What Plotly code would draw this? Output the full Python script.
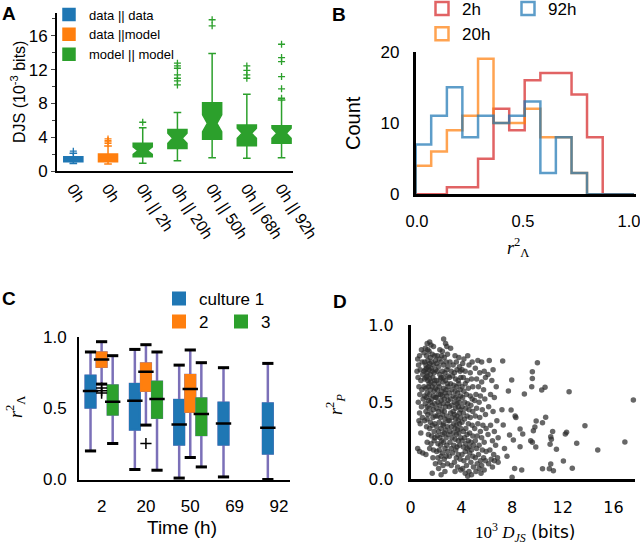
import plotly.graph_objects as go

SANS = "Liberation Sans, Arial, sans-serif"
SERIF = "Liberation Serif, DejaVu Serif, serif"
DJV = "DejaVu Sans, sans-serif"
BLUE, ORANGE, GREEN = "#1f77b4", "#ff7f0e", "#2ca02c"
PURPLE = "#7b70b8"

# ---------------- Panel A data ----------------
a_labels = ["0h", "0h", "0h || 2h", "0h || 20h", "0h || 50h", "0h || 68h", "0h || 92h"]
a_dd = dict(q1=[1.1], med=[1.38], q3=[1.7], lo=[0.9], hi=[2.1])
a_dd_out = [2.35]
a_dm = dict(q1=[1.1], med=[1.5], q3=[2.0], lo=[0.83], hi=[2.96])
a_dm_out = [3.28, 3.45, 3.6, 3.8]
a_mm = dict(q1=[1.7, 2.65, 3.75, 3.0, 3.28], med=[2.41, 3.87, 5.65, 4.46, 4.46],
            q3=[3.28, 4.9, 8.09, 5.45, 5.37], lo=[0.91, 1.22, 1.58, 1.5, 1.58],
            hi=[5.13, 6.91, 13.9, 9.09, 8.41], notch=[0.45, 0.6, 1.0, 0.6, 0.6])
a_mm_out = [[5.77], [10.19, 10.66, 10.98, 11.37, 12.16, 12.44, 12.76], [17.18, 17.9],
            [10.98, 11.37, 11.92, 12.44], [8.61, 9.72, 11.18, 12.95, 13.43, 15.0]]

# ---------------- Panel B data ----------------
b_edges = [-0.006, 0.067, 0.141, 0.214, 0.288, 0.361, 0.435, 0.508, 0.582, 0.655,
           0.729, 0.802, 0.876, 0.949, 1.023]
b_2h = [0, 0, 1, 1, 5, 12, 9, 16, 17, 17, 14, 8, 0, 0]
b_20h = [4, 6, 9, 11, 19, 10, 10, 12, 8, 8, 3, 0, 0, 0]
b_92h = [7, 11, 15, 8, 11, 10, 11, 13, 3, 8, 3, 0, 0, 0]

# ---------------- Panel C data ----------------
c_times = ["2", "20", "50", "69", "92"]
c_cult1 = dict(q1=[0.505, 0.35, 0.245, 0.245, 0.182], med=[0.62, 0.551, 0.386, 0.393, 0.362],
               q3=[0.727, 0.668, 0.556, 0.537, 0.533], lo=[0.2, 0.07, 0.01, 0.018, 0.0],
               hi=[0.893, 0.911, 0.801, 0.783, 0.813])
c_cult2 = dict(q1=[0.79, 0.622, 0.474], med=[0.84, 0.755, 0.633], q3=[0.889, 0.813, 0.731],
               lo=[0.668, 0.381, 0.154], hi=[0.965, 0.944, 0.907])
c_cult2_out = [[0.64, 0.622, 0.605], [0.252], []]
c_cult3 = dict(q1=[0.456, 0.432, 0.311], med=[0.544, 0.563, 0.458], q3=[0.659, 0.685, 0.568],
               lo=[0.252, 0.065, 0.088], hi=[0.867, 0.893, 0.818])

# ---------------- Panel D data (10^3 D_JS, r_P^2) ----------------
d_left = [(0.55,0.78),(0.62,0.74),(0.7,0.8),(0.85,0.84),(0.5,0.7),(0.75,0.71),(0.9,0.76),(0.58,0.66),
          (0.8,0.64),(0.95,0.68),(0.65,0.6),(0.88,0.58),(0.72,0.55),(0.98,0.52),(0.6,0.5),(0.85,0.47),
          (0.7,0.43),(0.65,0.38),(0.75,0.36),(0.92,0.4),(0.55,0.2),(0.7,0.18),(0.95,0.17),(0.8,0.3)]
d_x1 = [(1.3,0.88),(1.5,0.89),(1.6,0.87),(1.8,0.86),(1.15,0.85),(1.05,0.82),(1.25,0.8),(1.45,0.83),
        (1.7,0.81),(1.9,0.8),(1.55,0.79),(1.35,0.84),(1.1,0.76),(1.2,0.74),(1.35,0.77),(1.5,0.75),
        (1.65,0.76),(1.8,0.74),(1.95,0.77),(1.4,0.73),(1.05,0.7),(1.15,0.71),(1.3,0.69),(1.45,0.71),
        (1.55,0.68),(1.7,0.7),(1.85,0.69),(1.25,0.72),(1.6,0.72),(1.95,0.71),(1.1,0.65),(1.2,0.66),
        (1.35,0.64),(1.5,0.65),(1.6,0.63),(1.75,0.66),(1.9,0.64),(1.3,0.67),(1.45,0.62),(1.85,0.62),
        (1.05,0.6),(1.2,0.59),(1.4,0.6),(1.55,0.58),(1.7,0.6),(1.85,0.57),(1.3,0.56),(1.95,0.59),
        (1.1,0.54),(1.25,0.53),(1.5,0.55),(1.65,0.52),(1.8,0.54),(1.95,0.53),(1.4,0.51),(1.15,0.49),
        (1.3,0.47),(1.55,0.5),(1.7,0.48),(1.9,0.49),(1.45,0.46),(1.2,0.44),(1.35,0.42),(1.6,0.43),
        (1.8,0.45),(1.95,0.41),(1.1,0.38),(1.3,0.39),(1.55,0.37),(1.75,0.4),(1.9,0.36),(1.25,0.34),
        (1.5,0.33),(1.7,0.35),(1.85,0.31),(1.4,0.29),(1.65,0.28),(1.9,0.27),(1.3,0.24),(1.6,0.23),
        (1.85,0.25),(1.5,0.2),(1.8,0.19),(1.2,0.16),(1.75,0.14),(1.95,0.1),(1.7,0.04)]
d_x2 = [(2.6,0.91),(2.75,0.88),(2.3,0.84),(2.85,0.86),(2.5,0.83),(2.1,0.8),(2.25,0.78),(2.45,0.8),
        (2.65,0.79),(2.9,0.81),(2.05,0.75),(2.2,0.73),(2.4,0.76),(2.6,0.74),(2.8,0.76),(2.95,0.73),
        (2.1,0.7),(2.3,0.68),(2.5,0.7),(2.7,0.69),(2.85,0.71),(2.4,0.66),(2.95,0.67),(2.05,0.64),
        (2.2,0.62),(2.35,0.65),(2.55,0.63),(2.75,0.64),(2.9,0.62),(2.6,0.66),(2.1,0.58),(2.25,0.6),
        (2.45,0.57),(2.6,0.59),(2.8,0.58),(2.95,0.6),(2.35,0.55),(2.7,0.56),(2.05,0.53),(2.2,0.55),
        (2.5,0.54),(2.65,0.52),(2.85,0.54),(2.4,0.51),(2.95,0.51),(2.15,0.5),(2.3,0.48),(2.55,0.49),
        (2.75,0.47),(2.9,0.49),(2.05,0.46),(2.45,0.45),(2.65,0.44),(2.2,0.44),(2.1,0.41),(2.35,0.4),
        (2.5,0.42),(2.7,0.39),(2.85,0.41),(2.25,0.37),(2.6,0.36),(2.95,0.38),(2.05,0.34),(2.4,0.33),
        (2.55,0.35),(2.75,0.32),(2.9,0.34),(2.2,0.31),(2.65,0.3),(2.1,0.28),(2.3,0.27),(2.5,0.29),
        (2.8,0.27),(2.95,0.29),(2.45,0.25),(2.15,0.23),(2.35,0.22),(2.6,0.24),(2.85,0.22),(2.7,0.2),
        (2.25,0.19),(2.05,0.18),(2.5,0.17),(2.9,0.18),(2.4,0.15),(2.15,0.14),(2.65,0.13),(2.8,0.15),
        (2.3,0.11),(2.55,0.09),(2.9,0.1),(2.2,0.07),(2.7,0.05),(2.4,0.03)]
d_x3 = [(3.15,0.85),(3.5,0.8),(3.8,0.79),(3.1,0.76),(3.35,0.74),(3.6,0.76),(3.85,0.73),(3.2,0.7),
        (3.45,0.69),(3.65,0.71),(3.9,0.7),(3.3,0.67),(3.05,0.66),(3.55,0.65),(3.75,0.64),(3.95,0.66),
        (3.15,0.62),(3.4,0.61),(3.6,0.6),(3.8,0.62),(3.25,0.58),(3.5,0.57),(3.7,0.56),(3.9,0.58),
        (3.05,0.56),(3.35,0.54),(3.55,0.53),(3.75,0.52),(3.95,0.54),(3.15,0.52),(3.45,0.5),(3.65,0.49),
        (3.85,0.5),(3.25,0.48),(3.05,0.47),(3.55,0.46),(3.75,0.47),(3.95,0.45),(3.35,0.44),(3.15,0.43),
        (3.45,0.42),(3.65,0.41),(3.85,0.43),(3.25,0.4),(3.55,0.39),(3.75,0.38),(3.95,0.4),(3.05,0.38),
        (3.4,0.36),(3.6,0.35),(3.85,0.36),(3.2,0.34),(3.5,0.33),(3.7,0.32),(3.95,0.33),(3.1,0.31),
        (3.35,0.3),(3.6,0.29),(3.8,0.3),(3.25,0.27),(3.5,0.26),(3.75,0.25),(3.95,0.27),(3.1,0.24),
        (3.4,0.22),(3.65,0.21),(3.85,0.22),(3.2,0.2),(3.55,0.19),(3.3,0.17),(3.75,0.16),(3.05,0.15),
        (3.6,0.14),(3.9,0.13),(3.45,0.11),(3.2,0.09),(3.7,0.08),(3.95,0.06),(3.5,0.05)]
d_x4 = [(4.5,0.8),(4.2,0.78),(4.1,0.75),(4.6,0.74),(4.85,0.76),(4.3,0.7),(4.7,0.69),(4.05,0.71),
        (4.15,0.66),(4.45,0.64),(4.8,0.65),(4.3,0.62),(4.05,0.6),(4.55,0.59),(4.9,0.6),(4.2,0.57),
        (4.4,0.55),(4.7,0.54),(4.1,0.53),(4.85,0.52),(4.25,0.5),(4.5,0.49),(4.75,0.48),(4.05,0.47),
        (4.35,0.46),(4.6,0.45),(4.9,0.44),(4.15,0.43),(4.45,0.41),(4.7,0.4),(4.25,0.39),(4.05,0.37),
        (4.55,0.36),(4.85,0.35),(4.35,0.33),(4.15,0.31),(4.65,0.3),(4.45,0.29),(4.9,0.28),(4.25,0.27),
        (4.05,0.25),(4.55,0.25),(4.75,0.24),(4.35,0.23),(4.95,0.22),(4.15,0.21),(4.6,0.21),(4.45,0.2),
        (4.8,0.19),(4.3,0.18),(4.65,0.17),(4.05,0.16),(4.9,0.15),(4.5,0.14),(4.2,0.12),(4.75,0.11),
        (4.4,0.09),(4.95,0.08),(4.1,0.07),(4.6,0.05),(4.3,0.04),(4.8,0.03),(4.5,0.02)]
d_x5 = [(5.3,0.77),(5.6,0.76),(5.1,0.72),(5.45,0.69),(5.8,0.7),(5.2,0.65),(5.6,0.63),(5.9,0.66),
        (5.35,0.6),(5.75,0.58),(5.15,0.55),(5.5,0.54),(5.05,0.51),(5.4,0.5),(5.85,0.52),(5.2,0.46),
        (5.65,0.45),(5.1,0.41),(5.45,0.4),(5.9,0.42),(5.3,0.36),(5.7,0.35),(5.05,0.33),(5.5,0.31),
        (5.95,0.33),(5.25,0.28),(5.6,0.27),(5.1,0.25),(5.8,0.24),(5.4,0.22),(5.2,0.2),(5.65,0.19),
        (5.95,0.18),(5.35,0.16),(5.1,0.14),(5.75,0.14),(5.5,0.12),(5.9,0.12),(5.25,0.1),(5.6,0.09),
        (5.4,0.07),(5.8,0.06),(5.15,0.05),(5.55,0.04)]
d_x6 = [(6.2,0.77),(6.5,0.71),(6.1,0.68),(6.4,0.64),(6.75,0.6),(6.3,0.55),(6.6,0.53),(6.15,0.47),
        (6.5,0.44),(6.8,0.38),(6.3,0.35),(6.6,0.31),(6.1,0.29),(6.9,0.27),(6.45,0.25),(6.7,0.22),
        (6.25,0.19),(6.55,0.16),(6.85,0.14),(6.35,0.13),(6.6,0.12),(6.9,0.11),(6.15,0.1),(6.45,0.08)]
d_right = [(7.26,0.767),(7.97,0.644),(7.71,0.572),(7.92,0.449),(8.24,0.41),(8.3,0.4),(7.3,0.352),
           (7.8,0.287),(8.1,0.255),(8.63,0.326),(8.84,0.294),(8.63,0.211),(8.76,0.06),(8.2,0.07),
           (8.0,0.013),(8.97,0.553),(9.6,0.697),(9.6,0.654),(9.55,0.6),(10.0,0.756),(10.34,0.579),
           (10.6,0.596),(12.5,0.568),(17.57,0.514),(10.65,0.402),(9.9,0.378),(10.4,0.367),(9.8,0.339),
           (9.68,0.315),(11.2,0.309),(11.05,0.276),(11.1,0.259),(11.0,0.227),(12.2,0.294),(12.3,0.305),
           (13.75,0.347),(9.47,0.25),(9.6,0.24),(9.87,0.209),(11.5,0.194),(13.1,0.233),(14.76,0.19),
           (16.9,0.242),(12.05,0.119),(11.05,0.099),(10.4,0.069),(10.94,0.069),(11.26,0.056),
           (12.75,0.071),(7.4,0.2),(7.6,0.15),(7.2,0.45)]

fig = go.Figure()

# ---------- A ----------
def abox(pos, st, color, name, notched=False):
    kw = dict(notched=True, notchspan=st["notch"], notchwidth=0.25) if notched else {}
    return go.Box(x=pos, q1=st["q1"], median=st["med"], q3=st["q3"], lowerfence=st["lo"],
                  upperfence=st["hi"], fillcolor=color, line=dict(color=color, width=1.5),
                  width=0.55, whiskerwidth=0.4, name=name, boxpoints=False,
                  xaxis="x", yaxis="y", legend="legend", **kw)

fig.add_trace(abox([0], a_dd, BLUE, "data || data"))
fig.add_trace(abox([1], a_dm, ORANGE, "data ||model"))
fig.add_trace(abox([2, 3, 4, 5, 6], a_mm, GREEN, "model || model", notched=True))

def outl(pos_vals, color, xa, ya, size=5, lw=1.3):
    xs, ys = [], []
    for p, vals in pos_vals:
        xs += [p] * len(vals)
        ys += vals
    return go.Scatter(x=xs, y=ys, mode="markers", showlegend=False, xaxis=xa, yaxis=ya,
                      marker=dict(symbol="cross-thin", size=size, line=dict(color=color, width=lw)))

fig.add_trace(outl([(0, a_dd_out)], BLUE, "x", "y"))
fig.add_trace(outl([(1, a_dm_out)], ORANGE, "x", "y"))
fig.add_trace(outl(list(zip([2, 3, 4, 5, 6], a_mm_out)), GREEN, "x", "y"))

# ---------- B ----------
for counts, col, name, lg, rank in [(b_2h, "rgba(214,39,40,0.72)", "2h", "legend2", 1),
                                    (b_20h, "rgba(255,127,14,0.72)", "20h", "legend2", 2),
                                    (b_92h, "rgba(31,119,180,0.72)", "92h", "legend3", 3)]:
    xs = [b_edges[0]] + b_edges
    ys = [0] + counts + [0]
    fig.add_trace(go.Scatter(x=xs, y=ys, mode="lines", line=dict(color=col, width=2.5, shape="hv"),
                             showlegend=False, xaxis="x2", yaxis="y2", cliponaxis=False))
    fig.add_trace(go.Scatter(x=[None], y=[None], mode="markers", name=name, legend=lg,
                             legendrank=rank, xaxis="x2", yaxis="y2",
                             marker=dict(symbol="square-open", size=13, color=col,
                                         line=dict(color=col, width=2.5))))

# ---------- C ----------
offs = [-0.25, 0.0, 0.25]
for k, (st, col, name, lg) in enumerate([(c_cult1, BLUE, "culture 1", "legend4"),
                                         (c_cult2, ORANGE, "2", "legend5"),
                                         (c_cult3, GREEN, "3", "legend5")]):
    n = len(st["med"])
    xs = [i + offs[k] for i in range(n)]
    fig.add_trace(go.Box(x=xs, q1=st["q1"], median=st["med"], q3=st["q3"], lowerfence=st["lo"],
                         upperfence=st["hi"], fillcolor=col, line=dict(color=PURPLE, width=2.5),
                         whiskerwidth=0, width=0.22, boxpoints=False, showlegend=False,
                         xaxis="x3", yaxis="y3"))
    fig.add_trace(go.Box(x=xs, q1=st["q1"], median=st["med"], q3=st["q3"], lowerfence=st["q1"],
                         upperfence=st["q3"], fillcolor=col, line=dict(color=col, width=2),
                         whiskerwidth=0, width=0.22, boxpoints=False, name=name, legend=lg,
                         xaxis="x3", yaxis="y3"))
    fig.add_trace(go.Scatter(x=xs, y=st["med"], mode="markers", showlegend=False,
                             xaxis="x3", yaxis="y3",
                             marker=dict(symbol="line-ew", size=11, line=dict(color="black", width=2.5))))
    fig.add_trace(go.Scatter(x=xs + xs, y=st["lo"] + st["hi"], mode="markers", showlegend=False,
                             xaxis="x3", yaxis="y3", cliponaxis=False,
                             marker=dict(symbol="line-ew", size=8, line=dict(color="black", width=3))))
fig.add_trace(outl([(i + offs[1], v) for i, v in enumerate(c_cult2_out)], "black", "x3", "y3",
                   size=8, lw=1.5))

# ---------- D ----------
d_all = d_left + d_x1 + d_x2 + d_x3 + d_x4 + d_x5 + d_x6 + d_right
fig.add_trace(go.Scatter(x=[p[0] for p in d_all], y=[p[1] for p in d_all], mode="markers",
                         showlegend=False, xaxis="x4", yaxis="y4", cliponaxis=False,
                         marker=dict(size=5.5, color="rgba(45,45,45,0.72)")))

W, H = 640, 550
def px(x): return x / W
def py(y): return 1 - y / H

axbase = dict(showline=True, linecolor="black", showgrid=False, zeroline=False, mirror=False,
              automargin=False, ticklabeloverflow="allow")
fig.update_layout(
    template="none",
    width=W, height=H, margin=dict(l=0, r=0, t=0, b=0, pad=0, autoexpand=False),
    plot_bgcolor="white", paper_bgcolor="white", font=dict(family=SANS, color="black"),
    xaxis=dict(**axbase, domain=[px(57), px(293)], range=[-0.47, 6.33], linewidth=2,
               tickvals=list(range(7)), ticktext=a_labels, tickangle=57, ticks="",
               tickfont=dict(size=16), anchor="y"),
    yaxis=dict(**axbase, domain=[py(171), py(13)], range=[0, 18.7], linewidth=2,
               tickvals=[0, 4, 8, 12, 16], ticks="outside", ticklen=4, tickwidth=1,
               minor=dict(dtick=2, ticks="outside", ticklen=3), tickfont=dict(size=17), anchor="x"),
    xaxis2=dict(**axbase, domain=[px(415.5), px(636)], range=[-0.007, 1.033], linewidth=2.5,
                tickvals=[0, 0.5, 1.0], ticktext=["0.0", "0.5", "1.0"], ticks="",
                ticklabelstandoff=10, tickfont=dict(size=16.5), anchor="y2"),
    yaxis2=dict(**axbase, domain=[py(194.3), py(51.7)], range=[0, 20], linewidth=2.5,
                tickvals=[0, 10, 20], ticks="", ticklabelstandoff=10, tickfont=dict(size=17),
                anchor="x2"),
    xaxis3=dict(**axbase, domain=[px(79), px(290)], range=[-0.51, 4.25], linewidth=2,
                tickvals=list(range(5)), ticktext=c_times, ticks="", ticklabelstandoff=10,
                tickfont=dict(size=17), anchor="y3"),
    yaxis3=dict(**axbase, domain=[py(479.5), py(336.7)], range=[0, 1.0], linewidth=2,
                tickvals=[0, 0.5, 1.0], ticktext=["0.0", "0.5", "1.0"], ticks="",
                ticklabelstandoff=7, tickfont=dict(size=17), anchor="x3"),
    xaxis4=dict(**axbase, domain=[px(410.7), px(635)], range=[0, 17.7], linewidth=2.5,
                tickvals=[0, 4, 8, 12, 16], ticks="", ticklabelstandoff=12,
                tickfont=dict(size=16, family=DJV), anchor="y4"),
    yaxis4=dict(**axbase, domain=[py(479.3), py(325)], range=[0, 1.0], linewidth=2.5,
                tickvals=[0, 0.5, 1.0], ticktext=["0.0", "0.5", "1.0"], ticks="",
                ticklabelstandoff=11, tickfont=dict(size=16, family=DJV), anchor="x4"),
    legend=dict(x=px(49), y=py(-0.5), xanchor="left", yanchor="top", font=dict(size=13),
                bgcolor="rgba(0,0,0,0)", tracegroupgap=0, itemwidth=30),
    legend2=dict(x=px(422), y=py(-9), xanchor="left", yanchor="top", font=dict(size=17),
                 bgcolor="rgba(0,0,0,0)", itemwidth=30),
    legend3=dict(x=px(508), y=py(-9), xanchor="left", yanchor="top", font=dict(size=17),
                 bgcolor="rgba(0,0,0,0)", itemwidth=30),
    legend4=dict(x=px(159), y=py(281), xanchor="left", yanchor="top", font=dict(size=17),
                 bgcolor="rgba(0,0,0,0)", itemwidth=30),
    legend5=dict(x=px(159), y=py(304), xanchor="left", yanchor="top", font=dict(size=17),
                 bgcolor="rgba(0,0,0,0)", itemwidth=30, orientation="h", entrywidth=17),
)

rsq_L = "<i>r</i><sup>2</sup><sub>Λ</sub>"
ann = [
    ("<b>A</b>", 8.5, 13.5, 0, dict(size=19)),
    ("<b>B</b>", 338.5, 15, 0, dict(size=19)),
    ("<b>C</b>", 8.5, 298.5, 0, dict(size=19)),
    ("<b>D</b>", 340, 301.5, 0, dict(size=19)),
    ("DJS (10<sup>-3</sup> bits)", 18, 92, -90, dict(size=16)),
    ("Count", 353, 123, -90, dict(size=20)),
    (rsq_L, 518, 247, 0, dict(size=18, family=SERIF)),
    (rsq_L, 15, 407, -90, dict(size=18, family=SERIF)),
    ("Time (h)", 182, 527, 0, dict(size=19)),
    ("<i>r</i><sup>2</sup><sub><i>P</i></sub>", 335, 405, -90, dict(size=18, family=SERIF)),
    ("<span style='font-family:Liberation Serif'>10<sup>3</sup> <i>D</i><sub><i>JS</i></sub></span>"
     "<span style='font-family:DejaVu Sans'> (bits)</span>", 525, 532, 0, dict(size=17)),
]
for text, x, y, ang, f in ann:
    fig.add_annotation(text=text, x=px(x), y=py(y), xref="paper", yref="paper", showarrow=False,
                       xanchor="center", yanchor="middle", textangle=ang, font=f)

fig.write_html("out.html", config={"displayModeBar": False},
               post_script="document.body.style.margin='0px';")
